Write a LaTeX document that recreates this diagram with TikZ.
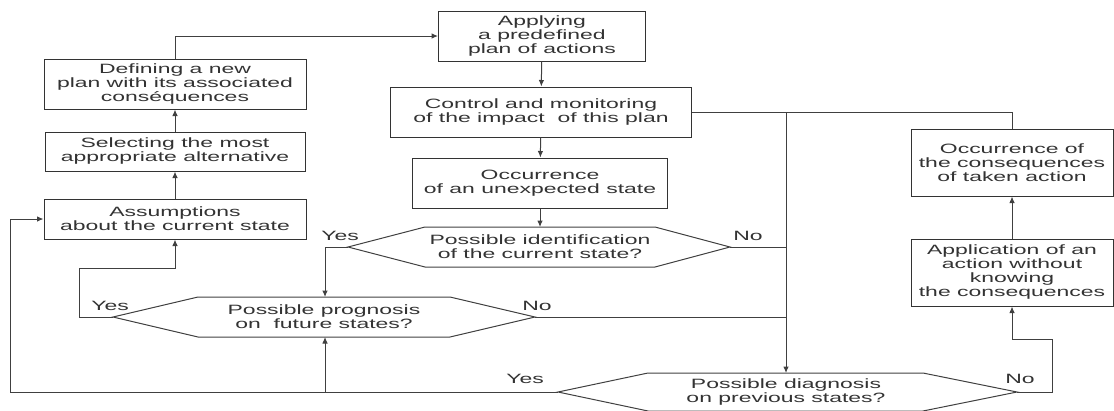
\documentclass[tikz,border=0pt]{standalone}
\usepackage{fontspec}
\setmainfont{Liberation Sans}[FakeStretch=1.7]
\usepackage{tikz}
\usetikzlibrary{
  positioning,
  arrows.meta
}

\begin{document}
\begin{tikzpicture}[x=1pt,y=-1pt,>={Latex[length=6.5pt,width=5.5pt]},
    every node/.style={font={\fontsize{13.5}{14}\selectfont},text=black!80},
    box/.style={draw=black!80,line width=1pt,align=center,inner sep=0pt},
    dec/.style={align=center,inner sep=0pt},
    lab/.style={inner sep=0pt},
    every path/.style={line width=1pt,draw=black!75}]
            \path[use as bounding box,draw=none] (0,0) rectangle (1114,410);
            \node[box,minimum width=262,minimum height=50] (define) at (175,84) {Defining a new\\plan with its associated\\conséquences};
            \node[box,minimum width=260,minimum height=39] (select) at (175,151.5) {Selecting the most\\appropriate alternative};
            \node[box,minimum width=262,minimum height=40] (assume) at (175,219) {Assumptions\\about the current state};
            \node[box,minimum width=207,minimum height=50] (apply) at (542,36) {Applying\\a predefined\\plan of actions};
            \node[box,minimum width=301,minimum height=50] (control) at (541,112) {Control and monitoring\\of the impact\ \ of this plan};
            \node[box,minimum width=255,minimum height=50] (unexp) at (540,183) {Occurrence\\of an unexpected state};
            \node[box,minimum width=202,minimum height=67] (conseq) at (1012,162.5) {Occurrence of\\the consequences\\of taken action};
            \node[box,minimum width=202,minimum height=67] (applic) at (1012,272.5) {Application of an\\action without\\knowing\\the consequences};

            \node[dec] (ident) at (540,247) {Possible identification\\of the current state?};
            \node[dec] (prog) at (324,317) {Possible prognosis\\on\ \ future states?};
            \node[dec] (diag) at (786,392) {Possible diagnosis\\on previous states?};
            \draw (348,247) coordinate (identW) -- (425,227) -- (655,227) -- (730,247) coordinate (identE) -- (655,267) -- (425,267) -- cycle;
            \draw (113,317) coordinate (progW) -- (198,297) -- (450,297) -- (535,317) coordinate (progE) -- (450,337) -- (198,337) -- cycle;
            \draw (558,392) coordinate (diagW) -- (648,373) -- (923,373) -- (1017,392) coordinate (diagE) -- (923,411) -- (648,411) -- cycle;
            \coordinate (identN) at (540,227);
            \coordinate (progN) at (325,297);
            \coordinate (progS) at (325,337);
            \coordinate (diagN) at (786,373);
            \coordinate (jT) at (786,112);
            \coordinate (loopL) at (10,392);

            \draw[->] (assume) -- (select);
            \draw[->] (select) -- (define);
            \draw[->] (define.north) |- (apply.west);
            \draw[->] (apply) -- (control);
            \draw[->] (control) -- (unexp);
            \draw[->] (unexp) -- (identN);
            \draw (control.east) -| (conseq.north);
            \draw[->] (jT) -- (diagN);
            \draw (identE) -- (identE -| jT);
            \draw[->] (identW) -| (progN);
            \draw[->] (progW) -- ++(-34,0) -- ++(0,-49) -| (assume.south);
            \draw (progE) -- (progE -| jT);
            \draw[->] (diagW) -- (loopL) |- (assume.west);
            \draw[->] (diagW -| progS) -- (progS);
            \draw[->] (diagE) -- ++(35,0) -- ++(0,-53) -| (applic.south);
            \draw[->] (applic) -- (conseq);

            \node[lab] (yesI) at (340,236) {Yes};
            \node[lab] (noI) at (748,236) {No};
            \node[lab] (yesP) at (110,306) {Yes};
            \node[lab] (noP) at (537,306) {No};
            \node[lab] (yesD) at (525,379) {Yes};
            \node[lab] (noD) at (1020,379) {No};
        \end{tikzpicture}
\end{document}
